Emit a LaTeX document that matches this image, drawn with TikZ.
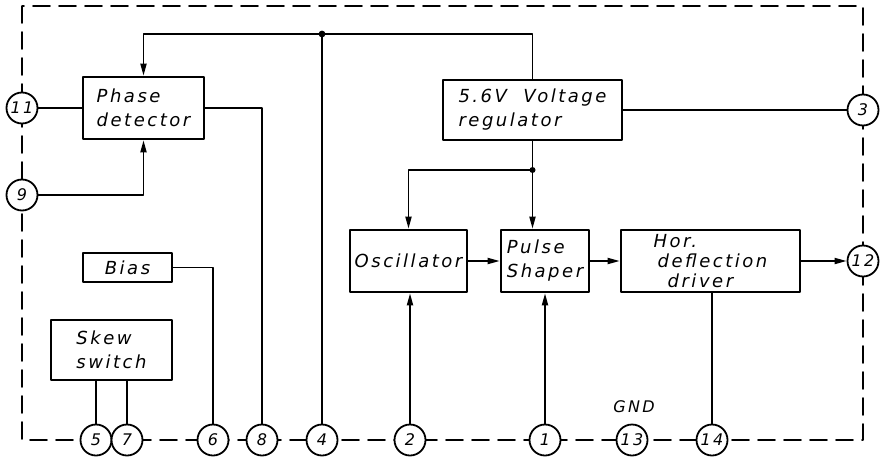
\documentclass[tikz,border=0pt]{standalone}
\usepackage{fontspec}
\newfontfamily\lettering[LetterSpace=14]{DejaVu Sans}
\usetikzlibrary{arrows.meta}
\tikzset{
  block/.style={draw,line width=2.6pt,inner sep=0pt,align=left,
    font=\lettering\itshape\fontsize{18}{24}\selectfont},
  pin/.style={circle,draw,fill=white,line width=1.8pt,minimum size=31pt,inner sep=0pt,
    font=\lettering\itshape\fontsize{16}{18}\selectfont},
  wire/.style={line width=1.8pt},
  frame/.style={line width=1.8pt,dash pattern=on 17pt off 9pt},
}
\begin{document}
\begin{tikzpicture}[x=1pt,y=-1pt,>={Triangle[length=12pt,width=6pt]},line join=round,line cap=round]
\useasboundingbox (0,0) rectangle (885,471);
% package outline
\draw[frame] (22,6) rectangle (863,440);
% blocks
\node[block,minimum width=121pt,minimum height=62pt] (pd) at (143.5,108) {Phase\\detector};
\node[block,minimum width=179pt,minimum height=60pt] (reg) at (532.5,110) {5.6V\ \ Voltage\\ regulator};
\node[block,minimum width=89pt,minimum height=29pt] (bias) at (127.5,267.5) {Bias};
\node[block,minimum width=121pt,minimum height=60pt] (skew) at (111.5,350) {Skew\\switch};
\node[block,minimum width=117pt,minimum height=62pt] (osc) at (408.5,261) {Oscillator};
\node[block,minimum width=88pt,minimum height=62pt] (ps) at (545,261) {Pulse\\Shaper};
\node[block,minimum width=179pt,minimum height=62pt,font=\lettering\itshape\fontsize{18}{20}\selectfont] (hor) at (710.5,261) {Hor.\\\hspace{4pt}deflection\\\hspace{14pt}driver};
% pins
\node[pin] (p11) at (22,108) {11};
\node[pin] (p9) at (22,195) {9};
\node[pin] (p3) at (863,110) {3};
\node[pin] (p12) at (863,261) {12};
\node[pin] (p5) at (96,440) {5};
\node[pin] (p7) at (127,440) {7};
\node[pin] (p6) at (213,440) {6};
\node[pin] (p8) at (262,440) {8};
\node[pin] (p4) at (322,440) {4};
\node[pin] (p2) at (410,440) {2};
\node[pin] (p1) at (545,440) {1};
\node[pin] (p13) at (632,440) {13};
\node[pin] (p14) at (712,440) {14};
\node[font=\lettering\itshape\fontsize{16}{18}\selectfont] (gnd) at (634,407) {GND};
% connections
\coordinate (top) at (322,34);
\coordinate (jn) at (532.5,170);
\draw[wire,->] (reg.north) |- (top) -| (pd.north);
\draw[wire] (top) -- (p4);
\fill (top) circle (3.4pt);
\draw[wire] (p11) -- (pd.west);
\draw[wire,->] (p9) -| (pd.south);
\draw[wire] (pd.east) -| (p8);
\draw[wire] (reg.east) -- (p3);
\draw[wire] (reg.south) -- (jn);
\draw[wire,->] (jn) -- (jn |- ps.north);
\draw[wire,->] (jn) -| (osc.north);
\fill (jn) circle (3pt);
\draw[wire,->] (osc) -- (ps);
\draw[wire,->] (ps) -- (hor);
\draw[wire,->] (hor) -- (p12);
\draw[wire,->] (p2) -- (p2 |- osc.south);
\draw[wire,->] (p1) -- (p1 |- ps.south);
\draw[wire] (p14) -- (p14 |- hor.south);
\draw[wire] (bias) -| (p6);
\draw[wire] (p5) -- (p5 |- skew.south);
\draw[wire] (p7) -- (p7 |- skew.south);
\end{tikzpicture}
\end{document}
